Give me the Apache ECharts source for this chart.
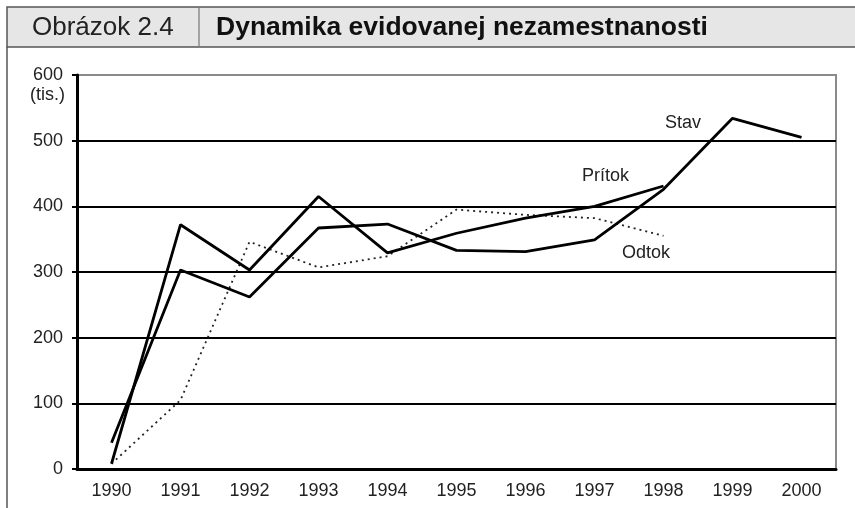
<!DOCTYPE html>
<html>
<head>
<meta charset="utf-8">
<script src="https://cdn.jsdelivr.net/npm/echarts@6/dist/echarts.min.js"></script>
<style>
  html, body { margin: 0; padding: 0; background: #fff; }
  #main { width: 855px; height: 508px; }
</style>
</head>
<body>
<div id="main"></div>
<script>
// roky na osi x
var years = ['1990', '1991', '1992', '1993', '1994', '1995', '1996', '1997', '1998', '1999', '2000']
// hodnoty v tis. osob, odčítané z obrázka
var stav = [40, 303, 262, 367, 373, 333, 331, 349, 426, 534, 505]
var pritok = [8, 372, 303, 415, 329, 359, 382, 400, 431]
var odtok = [8, 105, 346, 307, 324, 395, 387, 382, 355]

var font = 'Liberation Sans, Arial, sans-serif'

var myChart = echarts.init(document.getElementById('main'))

var option = {
    animation: false,
    backgroundColor: '#fff',
    grid: {
        left: 77, right: 19, top: 75, bottom: 39,
        show: true,
        borderColor: '#8a8a8a',
        borderWidth: 2
    },
    xAxis: {
        type: 'category',
        data: years,
        boundaryGap: true,
        axisLine: { lineStyle: { color: '#000', width: 3 } },
        axisTick: { length: 6, lineStyle: { color: '#000', width: 3 } },
        axisLabel: { color: '#222', fontSize: 18, fontFamily: font, margin: 13 },
        splitLine: { show: false }
    },
    yAxis: {
        type: 'value',
        min: 0, max: 600, interval: 100,
        axisLine: { show: true, lineStyle: { color: '#000', width: 3 } },
        axisTick: { show: true, length: 5, lineStyle: { color: '#000', width: 2 } },
        axisLabel: { color: '#222', fontSize: 18, fontFamily: font, margin: 14 },
        splitLine: {
            lineStyle: {
                color: ['#000', '#000', '#000', '#000', '#000', '#000', '#8a8a8a'],
                width: 2
            }
        }
    },
    series: [
        {
            name: 'Stav', type: 'line', data: stav,
            symbol: 'none',
            lineStyle: { color: '#000', width: 2.8 },
            z: 3
        },
        {
            name: 'Prítok', type: 'line', data: pritok,
            symbol: 'none',
            lineStyle: { color: '#000', width: 2.8 },
            z: 3
        },
        {
            name: 'Odtok', type: 'line', data: odtok,
            symbol: 'none',
            lineStyle: { color: '#222', width: 1.8, type: [2, 4] },
            z: 2
        }
    ],
    graphic: [
        // hlavička
        {
            type: 'rect', z: 10,
            shape: { x: 7, y: 7, width: 860, height: 40 },
            style: { fill: '#e6e6e6', stroke: '#555', lineWidth: 1.5 }
        },
        {
            type: 'line', z: 11,
            shape: { x1: 199, y1: 7, x2: 199, y2: 47 },
            style: { stroke: '#777', lineWidth: 1.2 }
        },
        {
            type: 'text', z: 11,
            style: { x: 32, y: 28, text: 'Obrázok 2.4', font: '26px ' + font, fill: '#222', verticalAlign: 'middle' }
        },
        {
            type: 'text', z: 11,
            style: { x: 216, y: 28, text: 'Dynamika evidovanej nezamestnanosti', font: 'bold 26.5px ' + font, fill: '#111', verticalAlign: 'middle' }
        },
        // ľavý okraj rámu
        {
            type: 'line', z: 10,
            shape: { x1: 7, y1: 47, x2: 7, y2: 508 },
            style: { stroke: '#555', lineWidth: 1.5 }
        },
        // jednotka osi y
        {
            type: 'text', z: 11,
            style: { x: 65, y: 95, text: '(tis.)', font: '18px ' + font, fill: '#222', align: 'right', verticalAlign: 'middle' }
        },
        // popisy radov
        {
            type: 'text', z: 11,
            style: { x: 665, y: 123, text: 'Stav', font: '18px ' + font, fill: '#222', verticalAlign: 'middle' }
        },
        {
            type: 'text', z: 11,
            style: { x: 582, y: 176, text: 'Prítok', font: '18px ' + font, fill: '#222', verticalAlign: 'middle' }
        },
        {
            type: 'text', z: 11,
            style: { x: 622, y: 253, text: 'Odtok', font: '18px ' + font, fill: '#222', verticalAlign: 'middle' }
        }
    ]
}

myChart.setOption(option)
window.addEventListener('resize', () => {
    myChart.resize()
})
</script>
</body>
</html>
